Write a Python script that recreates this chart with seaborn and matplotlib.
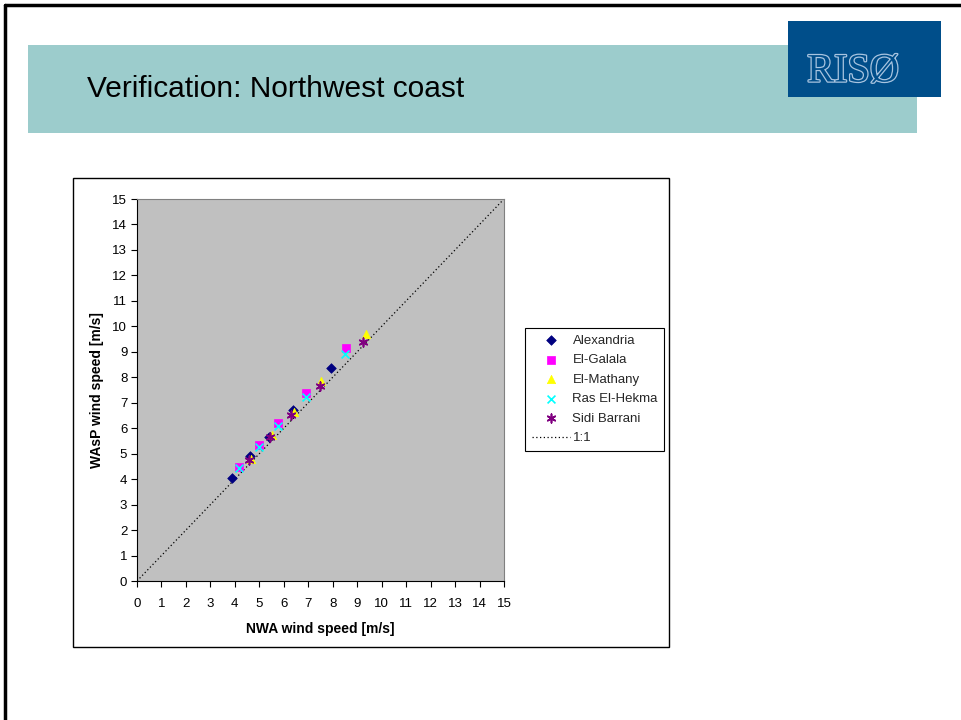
import matplotlib
matplotlib.use("Agg")
import matplotlib.pyplot as plt
import matplotlib.patheffects as pe
from matplotlib.patches import Rectangle
from matplotlib.lines import Line2D
import seaborn as sns
import pandas as pd

sns.set_theme(style="white")
plt.rcParams["font.family"] = ["Liberation Sans", "DejaVu Sans"]

# Mean wind speeds at the stations: NWA (x) against WAsP (y), m/s
stations = ["Alexandria", "El-Galala", "El-Mathany", "Ras El-Hekma", "Sidi Barrani"]
alexandria_nwa = [3.89, 4.62, 5.38, 6.39, 7.92]
alexandria_wasp = [4.06, 4.91, 5.65, 6.73, 8.36]
galala_nwa = [4.17, 5.00, 5.78, 6.89, 8.55]
galala_wasp = [4.48, 5.34, 6.20, 7.38, 9.14]
mathany_nwa = [4.67, 5.53, 6.40, 7.53, 9.34]
mathany_wasp = [4.78, 5.73, 6.65, 7.85, 9.71]
hekma_nwa = [4.17, 5.00, 5.78, 6.89, 8.49]
hekma_wasp = [4.42, 5.28, 6.07, 7.22, 8.93]
barrani_nwa = [4.58, 5.42, 6.31, 7.46, 9.24]
barrani_wasp = [4.75, 5.65, 6.52, 7.64, 9.40]
ticks = list(range(0, 16))

series = [
    ("Alexandria", alexandria_nwa, alexandria_wasp, "#000080", "D", 24),
    ("El-Galala", galala_nwa, galala_wasp, "#FF00FF", "s", 30),
    ("El-Mathany", mathany_nwa, mathany_wasp, "#FFFF00", "^", 36),
    ("Ras El-Hekma", hekma_nwa, hekma_wasp, "#00FFFF", "x", 32),
    ("Sidi Barrani", barrani_nwa, barrani_wasp, "#800080", (6, 2, 0), 38),
]

W, H = 961, 720
fig = plt.figure(figsize=(W / 100, H / 100), dpi=100)
fig.patch.set_facecolor("white")


def box(x0, y0, x1, y1, **kw):
    fig.patches.append(Rectangle((x0 / W, 1 - y1 / H), (x1 - x0) / W, (y1 - y0) / H,
                                 transform=fig.transFigure, figure=fig, zorder=0, **kw))


# Slide frame, title band and logo
fig.add_artist(Line2D([5 / W, 1], [1 - 5 / H, 1 - 5 / H], transform=fig.transFigure,
                      color="black", lw=2.5))
fig.add_artist(Line2D([5 / W, 5 / W], [0, 1 - 5 / H], transform=fig.transFigure,
                      color="black", lw=2.5))
box(28, 45, 917, 133, facecolor="#9CCCCC", edgecolor="none")
box(788, 21, 941, 97, facecolor="#004E8A", edgecolor="none")
fig.text(87 / W, 1 - 89 / H, "Verification: Northwest coast", fontsize=21.5,
         ha="left", va="center", color="black")
logo = fig.text(853 / W, 1 - 72 / H, "RISØ", fontsize=29, ha="center", va="center",
                family=["Liberation Serif", "DejaVu Serif"], color="#004E8A")
logo.set_path_effects([pe.withStroke(linewidth=1.8, foreground="#A8C4E0")])

# Chart frame
box(73, 178, 669, 647, facecolor="white", edgecolor="black", linewidth=1.0)

ax = fig.add_axes([137 / W, 1 - 581 / H, (504 - 137) / W, (581 - 199) / H])
ax.set_zorder(2)
ax.set_facecolor("#C0C0C0")

for name, xs, ys, col, mk, sz in series:
    df = pd.DataFrame({"NWA": xs, "WAsP": ys})
    if mk == "x" or isinstance(mk, tuple):
        # line-art markers
        sns.scatterplot(data=df, x="NWA", y="WAsP", ax=ax, marker=mk, color=col,
                        s=sz, linewidth=1.2, label=name, zorder=3)
    else:
        sns.scatterplot(data=df, x="NWA", y="WAsP", ax=ax, marker=mk, color=col,
                        s=sz, edgecolor=col, linewidth=0.5, label=name, zorder=3)

# 1:1 reference line
sns.lineplot(x=[0, 15], y=[0, 15], ax=ax, color="black", linestyle=(0, (1, 2)),
             linewidth=0.9, label="1:1", zorder=2)

ax.set_xlim(0, 15)
ax.set_ylim(0, 15)
ax.set_xticks(ticks)
ax.set_yticks(ticks)
ax.tick_params(axis="both", which="both", direction="out", length=4, width=0.8,
               color="black", labelsize=9.5, pad=3, bottom=True, left=True,
               labelcolor="black")
ax.tick_params(axis="x", pad=8)
ax.set_xlabel("NWA wind speed [m/s]", fontsize=10, fontweight="bold", labelpad=9,
              color="black")
ax.set_ylabel("WAsP wind speed [m/s]", fontsize=10, fontweight="bold", labelpad=6,
              color="black")
for side in ("top", "right"):
    ax.spines[side].set_color("#808080")
    ax.spines[side].set_linewidth(0.8)
for side in ("left", "bottom"):
    ax.spines[side].set_color("black")
    ax.spines[side].set_linewidth(0.8)

handles, labels = ax.get_legend_handles_labels()
ax.legend_.remove()
leg = fig.legend(handles, labels, loc="upper left",
                 bbox_to_anchor=(525 / W, 1 - 328 / H), fontsize=9.5, frameon=True,
                 fancybox=False, edgecolor="black", framealpha=1, borderpad=0.5,
                 handlelength=2.9, handletextpad=0.2, labelspacing=0.55,
                 borderaxespad=0)
leg.set_zorder(3)
leg.get_frame().set_linewidth(0.8)

fig.savefig("out.png", dpi=100, facecolor="white")
